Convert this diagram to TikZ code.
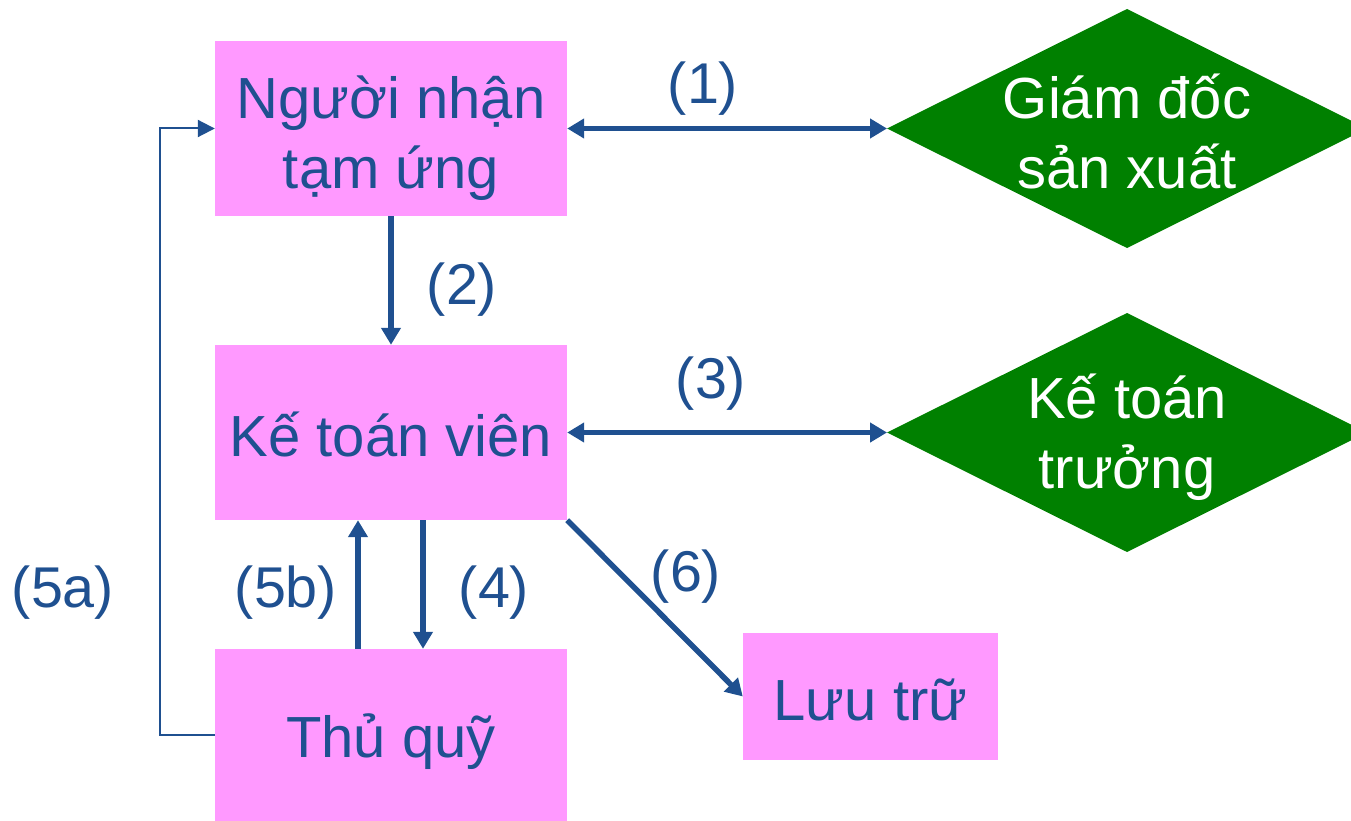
\documentclass[tikz,border=0pt]{standalone}
\usepackage{fontspec}
\setmainfont{Liberation Sans}
\usetikzlibrary{arrows.meta}
\definecolor{pinkbox}{HTML}{FF99FF}
\definecolor{dblue}{HTML}{1F5090}
\definecolor{dgreen}{HTML}{008000}
\tikzset{
  box/.style={fill=pinkbox, draw=none, inner sep=0pt},
  btext/.style={text=dblue, align=center, inner sep=0pt, font=\fontsize{58}{70}\selectfont},
  dtext/.style={text=white, align=center, font=\fontsize{58}{70}\selectfont},
  lbl/.style={text=dblue, font=\fontsize{57.5}{66}\selectfont},
  thickarrow/.style={draw=dblue, line width=5.5pt, -{Triangle[width=19pt,length=17pt]}},
  dblarrow/.style={draw=dblue, line width=5.5pt, {Triangle[width=19pt,length=17pt]}-{Triangle[width=19pt,length=17pt]}},
  thinarrow/.style={draw=dblue, line width=2pt, -{Triangle[width=17pt,length=17pt]}}
}
\begin{document}
\begin{tikzpicture}[x=1pt,y=-1pt]
\useasboundingbox (0,0) rectangle (1351,821);
% boxes
\node[box, minimum width=352pt, minimum height=175pt] (nn) at (391,128.5) {};
\node[box, minimum width=352pt, minimum height=175pt] (ktv) at (391,432.5) {};
\node[box, minimum width=352pt, minimum height=174pt] (tq) at (391,736) {};
\node[box, minimum width=255pt, minimum height=127pt] (lt) at (870.5,696.5) {};
\node[btext] (nnt) at (391,138) {Người nhận\\tạm ứng};
\node[btext] (ktvt) at (391,434.5) {Kế toán viên};
\node[btext] (tqt) at (391,742) {Thủ quỹ};
\node[btext] (ltt) at (870.5,699.5) {Lưu trữ};
% diamonds
\coordinate (d1w) at (887,128.5);
\coordinate (d2w) at (887,432.5);
\fill[dgreen] (d1w) -- (1127,9) -- (1367,128.5) -- (1127,248) -- cycle;
\fill[dgreen] (d2w) -- (1127,313) -- (1367,432.5) -- (1127,552) -- cycle;
\node[dtext] (gd) at (1127,131) {Giám đốc\\sản xuất};
\node[dtext] (ktt) at (1127,437) {Kế toán\\trưởng};
% connectors
\draw[dblarrow] (nn.east) -- (d1w);
\draw[dblarrow] (ktv.east) -- (d2w);
\draw[thickarrow] (nn.south) -- (ktv.north);
\draw[thickarrow] ([xshift=32pt]ktv.south) -- ([xshift=32pt]tq.north);
\draw[thickarrow] ([xshift=-33pt]tq.north) -- ([xshift=-33pt]ktv.south);
\draw[thickarrow] (ktv.south east) -- (lt.west);
\draw[thinarrow] ([yshift=1pt]tq.west) -- ++(-55,0) |- (nn.west);
% labels
\node[lbl] (l1) at (703,89) {(1)};
\node[lbl] (l2) at (462,290) {(2)};
\node[lbl] (l3) at (711,384) {(3)};
\node[lbl] (l4) at (494,593) {(4)};
\node[lbl] (l5b) at (286,593) {(5b)};
\node[lbl] (l5a) at (63,593) {(5a)};
\node[lbl] (l6) at (686,577) {(6)};
\end{tikzpicture}
\end{document}
